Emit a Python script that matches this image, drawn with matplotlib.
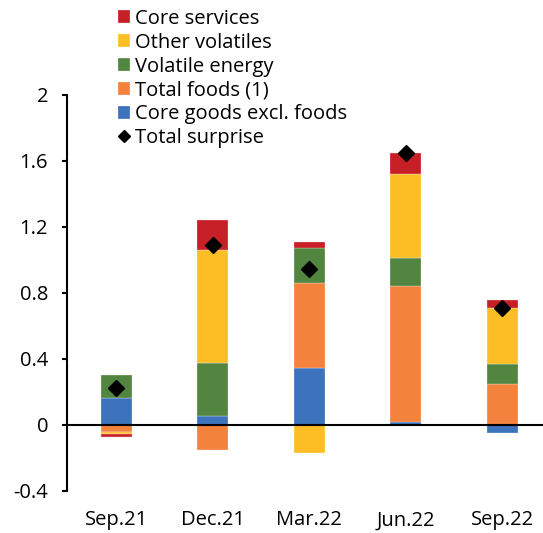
import numpy as np
import matplotlib.pyplot as plt

plt.rcParams['font.family'] = ['Open Sans', 'DejaVu Sans']

# Contributions to inflation surprise by component (pp)
quarters = ['Sep.21', 'Dec.21', 'Mar.22', 'Jun.22', 'Sep.22']
core_goods = [0.166, 0.057, 0.348, 0.016, -0.05]
total_foods = [-0.04, -0.152, 0.513, 0.824, 0.249]
volatile_energy = [0.134, 0.32, 0.209, 0.17, 0.12]
other_volatiles = [-0.012, 0.683, -0.172, 0.51, 0.34]
core_services = [-0.02, 0.182, 0.04, 0.13, 0.05]
total_surprise = [0.227, 1.09, 0.948, 1.65, 0.71]

series = [
    ('Core goods excl. foods', core_goods, '#3D73BC'),
    ('Total foods (1)', total_foods, '#F2823C'),
    ('Volatile energy', volatile_energy, '#528540'),
    ('Other volatiles', other_volatiles, '#FDBD25'),
    ('Core services', core_services, '#C61F26'),
]

fig = plt.figure(figsize=(5.43, 5.33), dpi=100)
ax = fig.add_axes([0.1234, 0.0788, 0.8766, 0.743])

x = np.arange(len(quarters))
pos_base = np.zeros(len(quarters))
neg_base = np.zeros(len(quarters))
handles = {}
for name, vals, color in series:
    vals = np.array(vals)
    base = np.where(vals >= 0, pos_base, neg_base)
    b = ax.bar(x, vals, 0.32, bottom=base, color=color,
               edgecolor='white', linewidth=0.2, zorder=2)
    handles[name] = b
    pos_base += np.where(vals >= 0, vals, 0)
    neg_base += np.where(vals < 0, vals, 0)

pts, = ax.plot(x, total_surprise, 'D', color='black', markersize=8, zorder=4)

ax.axhline(0, color='black', linewidth=1.5, zorder=3)

ax.set_xlim(-0.508, 4.42)
ax.set_ylim(-0.4, 2)
ax.set_yticks([-0.4, 0, 0.4, 0.8, 1.2, 1.6, 2])
ax.set_yticklabels(['-0.4', '0', '0.4', '0.8', '1.2', '1.6', '2'])
ax.set_xticks(x)
ax.set_xticklabels(quarters)

for s in ['top', 'right', 'bottom']:
    ax.spines[s].set_visible(False)
ax.spines['left'].set_linewidth(1.5)
ax.tick_params(axis='y', direction='out', length=3.6, width=1.5, pad=10, labelsize=14.5)
ax.tick_params(axis='x', length=0, pad=14, labelsize=14.5)

order = ['Core services', 'Other volatiles', 'Volatile energy',
         'Total foods (1)', 'Core goods excl. foods']
leg_handles = [handles[n] for n in order] + [pts]
leg_labels = order + ['Total surprise']
ax.legend(leg_handles, leg_labels, loc='upper left',
          bbox_to_anchor=(0.196, 1.004), bbox_transform=fig.transFigure,
          frameon=False, fontsize=14.5, handlelength=0.6, handleheight=0.6,
          handletextpad=0.25, labelspacing=0.19, borderpad=0.05, markerscale=0.75)

fig.savefig('out.png', dpi=100)
